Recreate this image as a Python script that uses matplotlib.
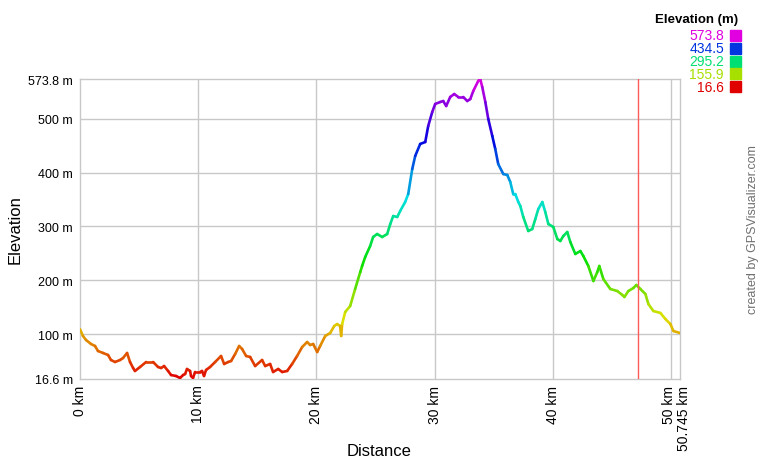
import numpy as np
import matplotlib
matplotlib.use("Agg")
import matplotlib.pyplot as plt
import matplotlib.transforms as mtransforms
from matplotlib.collections import LineCollection
from matplotlib.colors import ListedColormap, Normalize, hsv_to_rgb

plt.rcParams['font.family'] = ['Liberation Sans', 'DejaVu Sans']

# track profile (km, m)
dist_km = [0, 0.25, 0.51, 0.93, 1.27, 1.52, 1.95, 2.37, 2.62, 2.96, 3.39, 3.64, 3.98,
           4.23, 4.49, 4.65, 5.08, 5.59, 6.18, 6.60, 6.86, 7.11, 7.45, 7.70, 8.12,
           8.46, 8.72, 8.89, 9.05, 9.31, 9.39, 9.56, 9.73, 10.16, 10.32, 10.49, 10.66,
           11.00, 11.43, 11.85, 11.93, 12.19, 12.53, 12.78, 13.12, 13.46, 13.71, 14.05,
           14.39, 14.81, 15.40, 15.66, 16.08, 16.33, 16.76, 17.10, 17.52, 17.94, 18.36,
           18.79, 19.21, 19.46, 19.72, 20.06, 20.31, 20.74, 21.16, 21.50, 21.75, 22.00,
           22.09, 22.17, 22.43, 22.85, 23.27, 23.70, 23.86, 24.12, 24.54, 24.79, 25.13,
           25.56, 25.98, 26.24, 26.49, 26.83, 27.08, 27.50, 27.76, 28.10, 28.35, 28.77,
           29.20, 29.45, 29.79, 30.04, 30.47, 30.72, 30.97, 31.31, 31.65, 31.99, 32.41,
           32.75, 33.01, 33.26, 33.68, 33.85, 34.02, 34.28, 34.53, 34.87, 35.12, 35.37,
           35.80, 36.14, 36.39, 36.64, 36.81, 37.07, 37.24, 37.49, 37.91, 38.25, 38.51,
           38.76, 39.10, 39.35, 39.61, 40.03, 40.37, 40.62, 40.88, 41.21, 41.47, 41.89,
           42.32, 42.57, 42.99, 43.42, 43.75, 43.92, 44.26, 44.85, 45.44, 45.87, 46.04,
           46.38, 46.80, 47.05, 47.39, 47.82, 48.07, 48.49, 49.09, 49.51, 49.93, 50.19,
           50.745]
elev_m = [109.0, 96.5, 89.0, 81.6, 77.9, 68.6, 64.9, 61.2, 51.9, 48.2, 51.9, 55.6, 64.9,
          48.2, 37.0, 31.5, 38.9, 48.2, 48.2, 38.9, 37.0, 40.7, 31.5, 24.0, 22.2,
          18.5, 24.0, 25.9, 35.2, 31.5, 22.2, 18.5, 29.6, 29.6, 31.5, 22.2, 33.3,
          38.9, 48.2, 57.5, 59.3, 44.5, 48.2, 50.0, 63.0, 77.9, 72.3, 59.3,
          57.5, 40.7, 51.9, 40.7, 44.5, 29.6, 35.2, 29.6, 31.5, 44.5, 59.3,
          76.0, 85.3, 79.7, 81.6, 66.7, 77.9, 96.5, 102.0, 115.0, 118.7, 115.0,
          96.5, 118.7, 141.0, 152.2, 183.8, 215.0, 226.5, 243.2, 263.6, 280.3, 285.9,
          280.3, 285.9, 304.5, 319.3, 317.5, 328.6, 345.3, 360.2, 406.6, 430.8, 453.1,
          456.8, 486.5, 512.5, 527.4, 531.1, 532.9, 523.6, 540.4, 545.9, 540.4, 540.4,
          532.9, 536.6, 551.5, 570.1, 573.8, 559.0, 531.1, 499.5, 467.9, 443.8, 415.9,
          397.3, 395.5, 382.5, 360.2, 360.2, 345.3, 337.9, 317.5, 291.5, 295.2, 313.8,
          332.3, 345.3, 326.8, 304.5, 298.9, 276.6, 272.9, 282.2, 289.6, 271.0, 248.8,
          254.3, 245.0, 226.5, 198.6, 215.3, 226.5, 202.3, 183.8, 180.0, 172.6, 168.9,
          180.0, 185.6, 191.2, 183.8, 174.5, 155.9, 142.9, 139.2, 128.0, 118.7, 105.7,
          102.0]

elev_min = 16.6
elev_max = 573.8
total_km = 50.745
marker_km = 47.23

y_ticks = [16.6, 100, 200, 300, 400, 500, 573.8]
y_labels = ["16.6 m", "100 m", "200 m", "300 m", "400 m", "500 m", "573.8 m"]
x_ticks = [0, 10, 20, 30, 40, 50, 50.745]
x_labels = ["0 km", "10 km", "20 km", "30 km", "40 km", "50 km", "50.745 km"]
legend_vals = [573.8, 434.5, 295.2, 155.9, 16.6]

# red -> magenta hue ramp, like the GPSVisualizer colouring
hues = np.linspace(0, 300 / 360., 256)
ramp = hsv_to_rgb(np.column_stack([hues, np.ones(256), np.full(256, 0.88)]))
cmap = ListedColormap(ramp)
norm = Normalize(elev_min, elev_max)

fig = plt.figure(figsize=(7.6, 4.6), dpi=100)
ax = fig.add_axes([80 / 760., 80 / 460., 600 / 760., 300 / 460.])

grid_c = "#c8c8c8"
for y in y_ticks[1:-1]:
    ax.axhline(y, color=grid_c, lw=1, zorder=0)
for x in x_ticks[1:-1]:
    ax.axvline(x, color=grid_c, lw=1, zorder=0)
for s in ax.spines.values():
    s.set_color(grid_c)
    s.set_linewidth(1)

x = np.array(dist_km)
y = np.array(elev_m)
pts = np.column_stack([x, y]).reshape(-1, 1, 2)
segs = np.concatenate([pts[:-1], pts[1:]], axis=1)
lc = LineCollection(segs, cmap=cmap, norm=norm, linewidth=1.9, capstyle='round', zorder=3)
lc.set_array((y[:-1] + y[1:]) / 2)
ax.add_collection(lc)

ax.axvline(marker_km, color="#ff5a5a", lw=1, zorder=4)

ax.set_xlim(0, total_km)
ax.set_ylim(elev_min, elev_max)
ax.set_yticks(y_ticks)
ax.set_yticklabels(y_labels, fontsize=9)
ax.set_xticks(x_ticks)
ax.set_xticklabels(x_labels, fontsize=10, rotation=90)
ax.tick_params(length=0)
ax.tick_params(axis='x', pad=4)
ax.tick_params(axis='y', pad=5)

# nudge the last two distance labels apart, as in the original
labs = ax.get_xticklabels()
labs[-2].set_transform(labs[-2].get_transform() +
                       mtransforms.ScaledTranslation(-2 / 100., 0, fig.dpi_scale_trans))
labs[-1].set_transform(labs[-1].get_transform() +
                       mtransforms.ScaledTranslation(4 / 100., 0, fig.dpi_scale_trans))

fig.text(379 / 760., 1 - 452 / 460., "Distance", fontsize=12, ha='center', va='center')
fig.text(15 / 760., 1 - 230 / 460., "Elevation", fontsize=12, rotation=90,
         ha='center', va='center')

# colour legend at the top right
fig.text(738 / 760., 1 - 20 / 460., "Elevation (m)", fontsize=9.5, fontweight='bold',
         ha='right', va='center')
for i, v in enumerate(legend_vals):
    yy = 1 - (36.5 + i * 12.8) / 460.
    c = cmap(norm(v))
    fig.text(724 / 760., yy, f"{v:.1f}", fontsize=10, color=c, ha='right', va='center')
    fig.patches.append(plt.Rectangle((730 / 760., yy - 5.5 / 460.), 11 / 760., 11 / 460.,
                                     transform=fig.transFigure, color=c, figure=fig))

fig.text(753 / 760., 1 - 230 / 460., "created by GPSVisualizer.com", fontsize=9,
         color="#707070", rotation=90, ha='center', va='center')

fig.savefig("out.png", dpi=100)
